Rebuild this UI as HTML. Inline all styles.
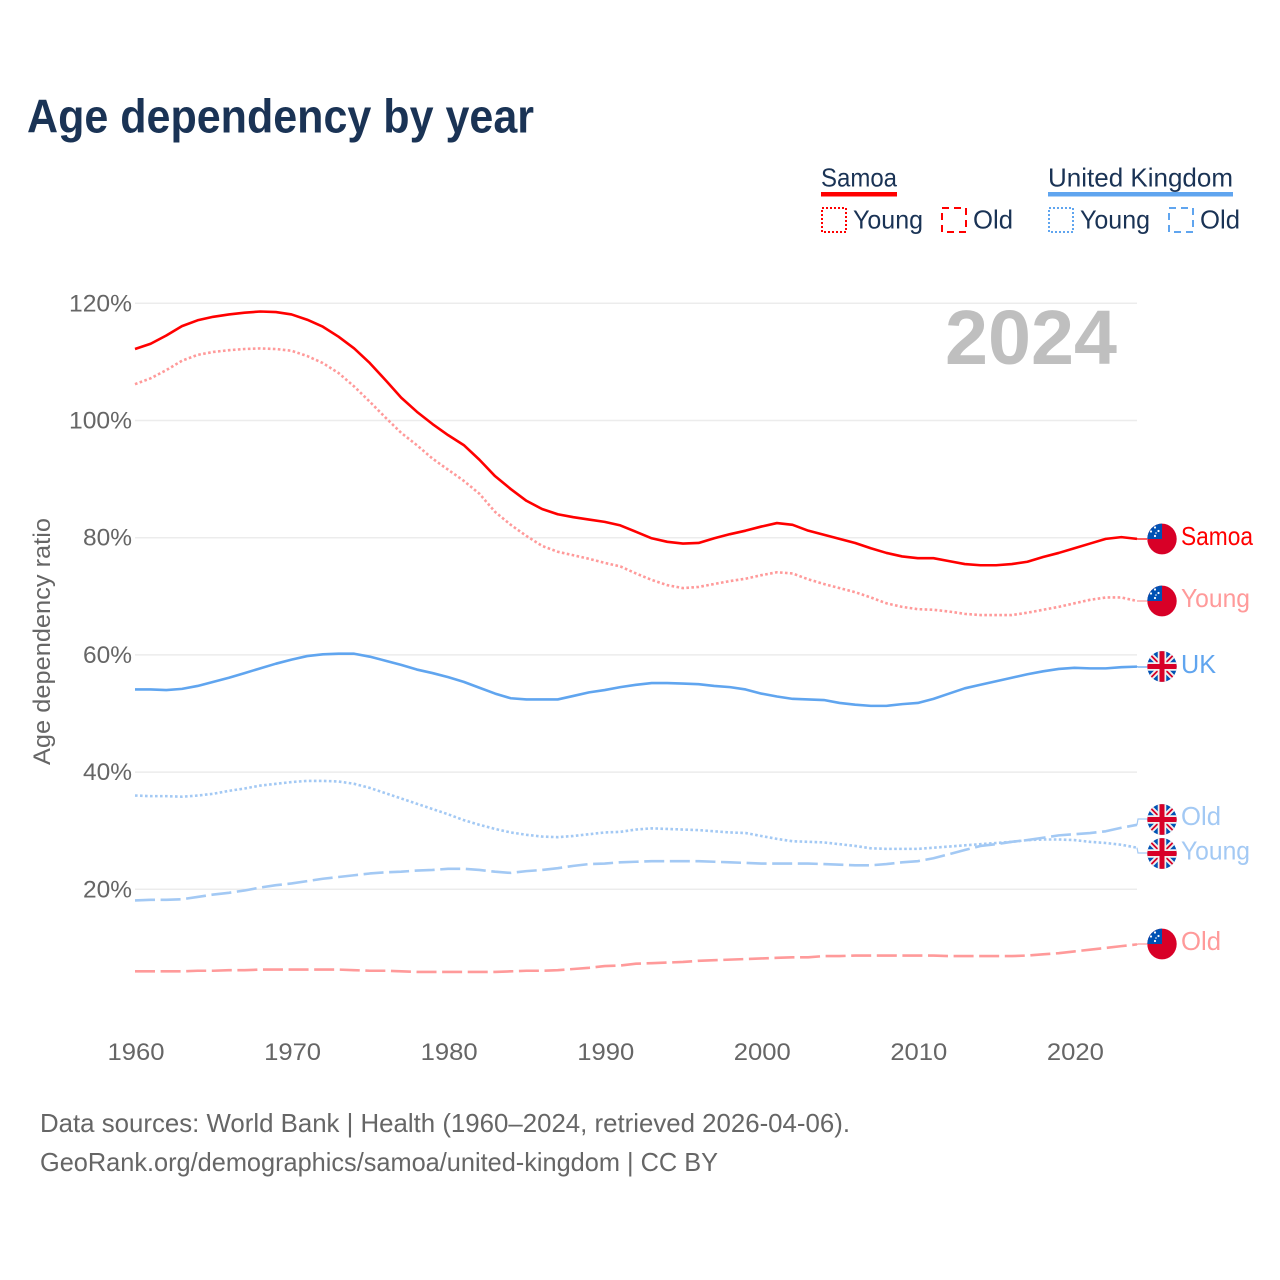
<!DOCTYPE html>
<html lang="en">
<head>
<meta charset="utf-8">
<title>Age dependency by year</title>
<style>
html,body{margin:0;padding:0;background:#fff;}
svg{display:block;font-family:"Liberation Sans",sans-serif;}
</style>
</head>
<body>
<svg id="chart" xmlns="http://www.w3.org/2000/svg" width="1280" height="1280" viewBox="0 0 1280 1280">
  <defs>
    <clipPath id="flag-clip"><ellipse cx="0" cy="0" rx="14.7" ry="15.4"/></clipPath>
    <g id="flag-samoa" clip-path="url(#flag-clip)">
      <rect x="-16" y="-16" width="32" height="32" fill="#d80027"/>
      <rect x="-16" y="-16" width="16" height="16" fill="#0052b4"/>
      <circle cx="-7" cy="-11.5" r="1.1" fill="#fff"/>
      <circle cx="-11" cy="-7.5" r="1.1" fill="#fff"/>
      <circle cx="-3.5" cy="-8" r="1.1" fill="#fff"/>
      <circle cx="-6" cy="-6" r="0.8" fill="#fff"/>
      <circle cx="-7" cy="-3" r="1.1" fill="#fff"/>
    </g>
    <g id="flag-uk" clip-path="url(#flag-clip)">
      <rect x="-16" y="-16" width="32" height="32" fill="#0052b4"/>
      <path d="M-16-16L16 16M16-16L-16 16" stroke="#f0f0f0" stroke-width="5.5" fill="none"/>
      <path d="M-16-16L-2-2M2 2L16 16M16-16L2-2M-2 2L-16 16" stroke="#d80027" stroke-width="1.8" fill="none"/>
      <path d="M0-16V16M-16 0H16" stroke="#f0f0f0" stroke-width="8.5" fill="none"/>
      <path d="M0-16V16M-16 0H16" stroke="#d80027" stroke-width="5" fill="none"/>
    </g>
  </defs>

  <text x="27" y="132.5" font-size="47" font-weight="700" fill="#1a3355" textLength="507" lengthAdjust="spacingAndGlyphs">Age dependency by year</text>

  <g font-size="26" fill="#1a3355">
    <text x="821" y="186.5" textLength="76" lengthAdjust="spacingAndGlyphs">Samoa</text>
    <rect x="821" y="192" width="76" height="4.5" fill="#ff0000"/>
    <rect x="822" y="208" width="24" height="24" fill="none" stroke="#ff0000" stroke-width="2" stroke-dasharray="2 2"/>
    <text x="853" y="228.5" textLength="70" lengthAdjust="spacingAndGlyphs">Young</text>
    <rect x="942" y="208" width="24" height="24" fill="none" stroke="#ff0000" stroke-width="2" stroke-dasharray="7 5"/>
    <text x="973" y="228.5" textLength="40" lengthAdjust="spacingAndGlyphs">Old</text>
    <text x="1048" y="186.5" textLength="185" lengthAdjust="spacingAndGlyphs">United Kingdom</text>
    <rect x="1048" y="192" width="185" height="4.5" fill="#60a5ef"/>
    <rect x="1049" y="208" width="24" height="24" fill="none" stroke="#60a5ef" stroke-width="2" stroke-dasharray="2 2"/>
    <text x="1080" y="228.5" textLength="70" lengthAdjust="spacingAndGlyphs">Young</text>
    <rect x="1169" y="208" width="24" height="24" fill="none" stroke="#60a5ef" stroke-width="2" stroke-dasharray="7 5"/>
    <text x="1200" y="228.5" textLength="40" lengthAdjust="spacingAndGlyphs">Old</text>
  </g>

  <g id="grid"></g>
  <g id="y-ticks"></g>
  <g id="x-ticks"></g>

  <text transform="translate(50,765) rotate(-90)" font-size="24" fill="#666" textLength="247" lengthAdjust="spacingAndGlyphs">Age dependency ratio</text>

  <text x="945" y="364" font-size="77" font-weight="700" fill="#bfbfbf" textLength="172" lengthAdjust="spacingAndGlyphs">2024</text>

  <g id="series"></g>

  <g font-size="26">
    <use href="#flag-samoa" x="1162" y="539"/>
    <text x="1181" y="545" fill="#ff0000" textLength="72" lengthAdjust="spacingAndGlyphs">Samoa</text>
    <use href="#flag-samoa" x="1162" y="601"/>
    <text x="1181" y="607" fill="#ff9a9a" textLength="69" lengthAdjust="spacingAndGlyphs">Young</text>
    <use href="#flag-uk" x="1162" y="666.5"/>
    <text x="1181" y="673" fill="#60a5ef" textLength="35" lengthAdjust="spacingAndGlyphs">UK</text>
    <use href="#flag-uk" x="1162" y="819.5"/>
    <text x="1181" y="825" fill="#a3c9f4" textLength="40" lengthAdjust="spacingAndGlyphs">Old</text>
    <use href="#flag-uk" x="1162" y="853.5"/>
    <text x="1181" y="859.5" fill="#a3c9f4" textLength="69" lengthAdjust="spacingAndGlyphs">Young</text>
    <use href="#flag-samoa" x="1162" y="944"/>
    <text x="1181" y="950" fill="#ff9a9a" textLength="40" lengthAdjust="spacingAndGlyphs">Old</text>
  </g>

  <g font-size="26" fill="#666">
    <text x="40" y="1132" textLength="810" lengthAdjust="spacingAndGlyphs">Data sources: World Bank | Health (1960–2024, retrieved 2026-04-06).</text>
    <text x="40" y="1171" textLength="678" lengthAdjust="spacingAndGlyphs">GeoRank.org/demographics/samoa/united-kingdom | CC BY</text>
  </g>
</svg>

<script>
const startYear = 1960;
const endYear = 2024;
const yTickValues = [120, 100, 80, 60, 40, 20];
const xTickYears = [1960, 1970, 1980, 1990, 2000, 2010, 2020];

const samoaTotal = [
  112.2,113.1,114.5,116.1,117.1,117.7,118.1,118.4,118.6,118.5,
  118.1,117.2,116.0,114.3,112.3,109.8,106.9,103.9,101.5,99.4,
  97.5,95.8,93.3,90.5,88.3,86.3,84.9,84.0,83.5,83.1,
  82.7,82.1,81.0,79.9,79.3,79.0,79.1,79.9,80.6,81.2,
  81.9,82.5,82.2,81.2,80.5,79.8,79.1,78.2,77.4,76.8,
  76.5,76.5,76.0,75.5,75.3,75.3,75.5,75.9,76.7,77.4,
  78.2,79.0,79.8,80.1,79.8
];
const samoaYoung = [
  106.2,107.2,108.6,110.2,111.2,111.7,112.0,112.2,112.3,112.2,
  111.9,111.0,109.8,108.1,105.8,103.2,100.5,97.9,95.8,93.5,
  91.6,89.7,87.5,84.4,82.2,80.3,78.6,77.6,77.0,76.4,
  75.7,75.1,73.9,72.8,71.9,71.4,71.6,72.1,72.6,73.0,
  73.6,74.1,73.9,72.9,72.1,71.4,70.7,69.8,68.8,68.2,
  67.8,67.7,67.4,67.0,66.8,66.8,66.8,67.2,67.7,68.2,
  68.8,69.4,69.8,69.8,69.2
];
const samoaOld = [
  6.0,6.0,6.0,6.0,6.1,6.1,6.2,6.2,6.3,6.3,
  6.3,6.3,6.3,6.3,6.2,6.1,6.1,6.0,5.9,5.9,
  5.9,5.9,5.9,5.9,6.0,6.1,6.1,6.2,6.4,6.6,
  6.9,7.0,7.3,7.4,7.5,7.6,7.8,7.9,8.0,8.1,
  8.2,8.3,8.4,8.4,8.6,8.6,8.7,8.7,8.7,8.7,
  8.7,8.7,8.6,8.6,8.6,8.6,8.6,8.7,8.9,9.1,
  9.4,9.7,10.0,10.3,10.6
];
const ukTotal = [
  54.1,54.1,54.0,54.2,54.7,55.4,56.1,56.9,57.7,58.5,
  59.2,59.8,60.1,60.2,60.2,59.7,59.0,58.3,57.5,56.9,
  56.2,55.4,54.4,53.4,52.6,52.4,52.4,52.4,53.0,53.6,
  54.0,54.5,54.9,55.2,55.2,55.1,55.0,54.7,54.5,54.1,
  53.4,52.9,52.5,52.4,52.3,51.8,51.5,51.3,51.3,51.6,
  51.8,52.5,53.4,54.3,54.9,55.5,56.1,56.7,57.2,57.6,
  57.8,57.7,57.7,57.9,58.0
];
const ukYoung = [
  36.0,35.9,35.9,35.8,36.0,36.3,36.8,37.2,37.7,38.0,
  38.3,38.5,38.5,38.4,38.0,37.3,36.4,35.5,34.6,33.7,
  32.8,31.8,31.0,30.3,29.7,29.3,29.0,28.9,29.1,29.4,
  29.7,29.8,30.2,30.4,30.3,30.2,30.1,29.9,29.7,29.6,
  29.1,28.6,28.2,28.1,28.0,27.7,27.4,27.0,26.9,26.9,
  26.9,27.1,27.3,27.5,27.7,27.9,28.1,28.4,28.5,28.5,
  28.4,28.1,27.9,27.6,27.1
];
const ukOld = [
  18.1,18.2,18.2,18.3,18.7,19.1,19.4,19.8,20.3,20.7,
  21.0,21.4,21.8,22.1,22.4,22.7,22.9,23.0,23.2,23.3,
  23.5,23.5,23.3,23.0,22.8,23.1,23.3,23.6,24.0,24.3,
  24.4,24.6,24.7,24.8,24.8,24.8,24.8,24.7,24.6,24.5,
  24.4,24.4,24.4,24.4,24.3,24.2,24.1,24.1,24.3,24.6,
  24.8,25.3,26.0,26.7,27.4,27.7,28.1,28.4,28.8,29.2,
  29.4,29.6,29.9,30.5,31.0
];

const NS = 'http://www.w3.org/2000/svg';
const plotLeft = 135, plotRight = 1137;
function xScale(year) {
  return plotLeft + (year - startYear) * (plotRight - plotLeft) / (endYear - startYear);
}
function yScale(v) {
  return 1006.5 - v * 5.86;
}
function make(tag, attrs, parent) {
  const el = document.createElementNS(NS, tag);
  Object.keys(attrs).forEach(function (k) { el.setAttribute(k, attrs[k]); });
  parent.appendChild(el);
  return el;
}

const gridGroup = document.getElementById('grid');
const yTickGroup = document.getElementById('y-ticks');
const xTickGroup = document.getElementById('x-ticks');
const seriesGroup = document.getElementById('series');

yTickValues.forEach(function (v) {
  const line = make('line', {x1: plotLeft, x2: plotRight, y1: yScale(v), y2: yScale(v), stroke: '#ececec', 'stroke-width': 1.5}, gridGroup);
  
  
  const label = make('text', {x: 132, y: yScale(v) + 8, 'text-anchor': 'end', 'font-size': 24, fill: '#666'}, yTickGroup);
  
  
  label.setAttribute('textLength', v >= 100 ? 63 : 49);
  label.setAttribute('lengthAdjust', 'spacingAndGlyphs');
  label.textContent = v + '%';
});

xTickYears.forEach(function (yr) {
  const label = make('text', {x: xScale(yr) + 1, y: 1060, 'text-anchor': 'middle', 'font-size': 24, fill: '#666'}, xTickGroup);
  
  
  label.setAttribute('textLength', 57);
  label.setAttribute('lengthAdjust', 'spacingAndGlyphs');
  label.textContent = yr;
});

function drawSeries(name, values, color, dash, endY) {
  const pts = values.map(function (v, i) {
    return xScale(startYear + i).toFixed(2) + ',' + yScale(v).toFixed(2);
  }).join(' ');
  const attrs = {points: pts, fill: 'none', stroke: color, 'stroke-width': 2.6, 'stroke-linejoin': 'round'};
  if (dash) attrs['stroke-dasharray'] = dash;
  const line = make('polyline', attrs, seriesGroup);
  
  

  const lastY = yScale(values[values.length - 1]);
  const connector = make('polyline', {
    points: plotRight + ',' + lastY.toFixed(2) + ' ' + (plotRight + 1) + ',' + endY + ' 1147,' + endY,
    fill: 'none', stroke: color, 'stroke-width': 1.2
  }, seriesGroup);
  
  
}

drawSeries('samoa-young', samoaYoung, '#ff9a9a', '2.6 2.4', 601);
drawSeries('samoa-old', samoaOld, '#ff9a9a', '20 5.6', 944);
drawSeries('uk-young', ukYoung, '#a3c9f4', '2.6 2.4', 853);
drawSeries('uk-old', ukOld, '#a3c9f4', '20 5.6', 819);
drawSeries('uk-total', ukTotal, '#60a5ef', null, 667);
drawSeries('samoa-total', samoaTotal, '#ff0000', null, 539);
</script>
</body>
</html>
